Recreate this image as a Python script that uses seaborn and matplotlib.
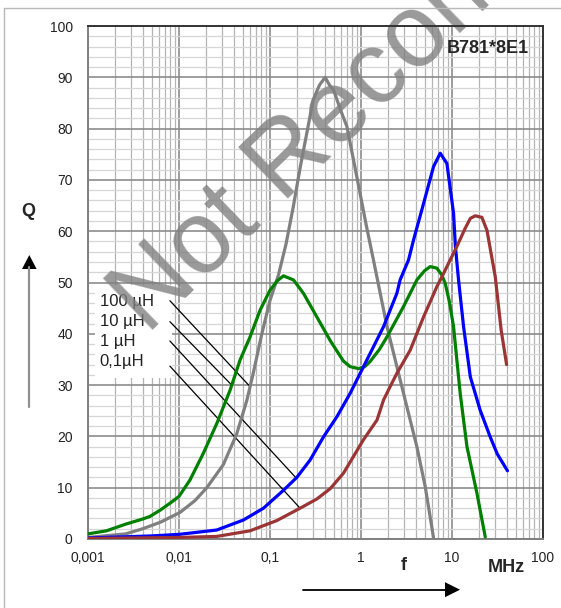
import numpy as np
import pandas as pd
import matplotlib
matplotlib.use("Agg")
import matplotlib.pyplot as plt
import matplotlib.ticker as mticker
from matplotlib.lines import Line2D
from matplotlib.patches import Polygon, Rectangle
import seaborn as sns

# Q vs f (MHz)
f_100u = [0.001, 0.0026, 0.004, 0.0063, 0.0103, 0.015, 0.0202, 0.0307, 0.0431, 0.0556,
          0.0658, 0.0813, 0.1, 0.124, 0.15, 0.18, 0.215, 0.253, 0.298, 0.35, 0.404,
          0.45, 0.5, 0.6, 0.7, 0.9, 1.15, 1.37, 1.93, 2.48, 3.19, 4.11, 5.08, 6.3]
q_100u = [0.3, 1.0, 2.0, 3.3, 5.2, 7.5, 10.0, 14.5, 20.5, 27.0,
          32.5, 40.0, 46.5, 51.5, 57.5, 64.7, 72.5, 79.0, 85.6, 88.5, 90.0,
          88.5, 87.5, 83.5, 80.4, 70.6, 60.9, 54.4, 41.4, 33.6, 25.8, 18.0, 10.2, 0.0]

f_10u = [0.001, 0.0016, 0.0026, 0.004, 0.0048, 0.0063, 0.008, 0.01, 0.0132, 0.0185,
         0.026, 0.0364, 0.0469, 0.0604, 0.0778, 0.1, 0.12, 0.1406, 0.181, 0.233,
         0.327, 0.458, 0.64, 0.76, 0.94, 1.1, 1.26, 1.6, 1.93, 2.93, 4.11, 5.0,
         5.76, 6.82, 7.7, 8.43, 9.3, 10.4, 12.3, 14.6, 18.8, 23.2]
q_10u = [1.0, 1.6, 2.9, 3.9, 4.4, 5.7, 7.0, 8.3, 11.5, 16.7,
         22.5, 29.0, 34.9, 39.4, 44.6, 48.5, 50.3, 51.3, 50.5, 47.9,
         43.3, 38.7, 34.7, 33.6, 33.2, 33.6, 34.6, 37.0, 39.4, 45.3, 50.5, 52.3,
         53.1, 52.8, 51.5, 49.8, 46.5, 41.4, 28.4, 18.0, 8.9, 0.4]

f_1u = [0.001, 0.005, 0.01, 0.026, 0.051, 0.0847, 0.1406, 0.197, 0.276, 0.387, 0.542,
        0.76, 1.16, 1.77, 2.48, 2.69, 3.33, 3.78, 4.87, 6.27, 7.43, 8.79, 10.4, 10.9,
        11.8, 13.4, 15.9, 20.4, 26.3, 31.4, 40.7]
q_1u = [0.2, 0.6, 0.9, 1.75, 3.7, 6.0, 9.5, 12.0, 15.4, 19.9, 23.8,
        28.4, 34.9, 41.4, 47.9, 50.5, 54.4, 58.3, 65.4, 72.6, 75.2, 73.2, 63.5, 57.0,
        50.5, 41.4, 31.6, 25.1, 19.9, 16.6, 13.3]

f_01u = [0.001, 0.01, 0.026, 0.0604, 0.119, 0.214, 0.327, 0.458, 0.64, 0.76, 1.06,
         1.5, 1.77, 2.09, 2.48, 3.47, 4.87, 6.82, 7.75, 9.55, 11.3, 13.9, 15.9, 18.0,
         21.3, 24.2, 29.9, 34.7, 39.8]
q_01u = [0.1, 0.3, 0.5, 1.6, 3.6, 6.0, 7.8, 9.8, 12.8, 15.0, 19.3,
         23.2, 27.1, 29.7, 32.3, 36.8, 43.3, 49.2, 51.1, 54.4, 57.0, 60.5, 62.5, 63.0,
         62.7, 60.2, 51.1, 40.7, 34.0]

series = ["100 µH", "10 µH", "1 µH", "0,1µH"]
colors = ["#808080", "#008000", "#0000ff", "#9b3535"]
# frequency where each label's leader line meets its curve
leader_f = [0.0604, 0.038, 0.194, 0.214]

x_ticks = [0.001, 0.01, 0.1, 1, 10, 100]
x_labels = ["0,001", "0,01", "0,1", "1", "10", "100"]

curves = [(f_100u, q_100u), (f_10u, q_10u), (f_1u, q_1u), (f_01u, q_01u)]
rows = []
for name, (fs, qs) in zip(series, curves):
    for fv, qv in zip(fs, qs):
        rows.append({"f": fv, "Q": qv, "L": name})
df = pd.DataFrame(rows)

sns.set_style("white")
plt.rcParams["font.family"] = ["Liberation Sans", "DejaVu Sans"]

W, H = 561, 608
fig = plt.figure(figsize=(W / 100, H / 100), dpi=100)


def px(x, y):
    return (x / W, 1 - y / H)


ax = fig.add_axes([88 / W, 1 - 539 / H, (543 - 88) / W, (539 - 26) / H])
ax.set_facecolor("none")

sns.lineplot(data=df, x="f", y="Q", hue="L", hue_order=series,
             palette=dict(zip(series, colors)), estimator=None, sort=False,
             linewidth=2.3, legend=False, ax=ax, zorder=3)
for line in ax.get_lines():
    line.set_solid_joinstyle("round")

ax.set_xscale("log")
ax.set_xlim(0.001, 100)
ax.set_ylim(0, 100)
ax.set_xticks(x_ticks)
ax.set_xticklabels(x_labels)
ax.set_yticks(range(0, 101, 10))
ax.xaxis.set_minor_locator(mticker.LogLocator(base=10, subs=range(2, 10), numticks=20))
ax.xaxis.set_minor_formatter(mticker.NullFormatter())
ax.yaxis.set_minor_locator(mticker.MultipleLocator(2))
ax.set_xlabel("")
ax.set_ylabel("")

ax.set_axisbelow(True)
ax.grid(which="major", color="#8c8c8c", linewidth=1.2)
ax.grid(which="minor", axis="x", color="#b4b4b4", linewidth=0.9)
ax.grid(which="minor", axis="y", color="#d6d6d6", linewidth=0.9)

ax.tick_params(which="major", direction="out", length=4, width=1, color="#808080",
               labelsize=10, labelcolor="#222222")
ax.tick_params(axis="x", pad=5)
ax.tick_params(axis="y", pad=7)
ax.tick_params(which="minor", length=0)

for side in ["top", "right"]:
    ax.spines[side].set_color("#333333")
    ax.spines[side].set_linewidth(1.4)
for side in ["left", "bottom"]:
    ax.spines[side].set_color("#808080")
    ax.spines[side].set_linewidth(1.4)
    ax.spines[side].set_visible(True)

# label box
ax.add_patch(Rectangle((0.015, 0.314), 0.17, 0.181, transform=ax.transAxes,
                       facecolor="white", edgecolor="none", zorder=1))
label_y = [0.4626, 0.4236, 0.3846, 0.3456]
start_y = [0.4645, 0.4236, 0.386, 0.337]
for name, ly, sy, lf, (fs, qs) in zip(series, label_y, start_y, leader_f, curves):
    ax.text(0.026, ly, name, transform=ax.transAxes, fontsize=12, va="center",
            ha="left", color="#222222", zorder=2)
    end_q = np.interp(np.log10(lf), np.log10(fs), qs)
    ax.annotate("", xy=(lf, end_q), xycoords="data",
                xytext=(0.18, sy), textcoords="axes fraction",
                arrowprops=dict(arrowstyle="-", color="black", linewidth=0.9,
                                shrinkA=0, shrinkB=0), zorder=2)

ax.text(0.97, 0.957, "B781*8E1", transform=ax.transAxes, fontsize=13,
        fontweight="bold", ha="right", va="center", zorder=4)

# watermark
ax.text(*px(147, 335), "Not Recommended", transform=fig.transFigure,
        fontsize=74, color="#808080", alpha=0.8, rotation=44,
        rotation_mode="anchor", ha="left", va="baseline", clip_on=False,
        zorder=2)

# axis captions and arrows
fig.text(*px(28, 212), "Q", fontsize=13, fontweight="bold", ha="center", va="center")
fig.text(*px(404, 566), "f", fontsize=13, fontweight="bold", ha="center", va="center")
fig.text(*px(506, 568), "MHz", fontsize=13, fontweight="bold", ha="center", va="center")

fig.add_artist(Line2D(*zip(px(29.3, 406.7), px(29.3, 267)), transform=fig.transFigure,
                      color="#909090", linewidth=1.6))
fig.add_artist(Polygon([px(22, 269), px(36.6, 269), px(29.3, 255)], closed=True,
                       transform=fig.transFigure, facecolor="black", edgecolor="none"))
fig.add_artist(Line2D(*zip(px(303, 589.7), px(447, 589.7)), transform=fig.transFigure,
                      color="black", linewidth=1.3))
fig.add_artist(Polygon([px(445, 582.2), px(445, 597.2), px(460, 589.7)], closed=True,
                       transform=fig.transFigure, facecolor="black", edgecolor="none"))

# outer frame
fig.add_artist(Line2D(*zip(px(4, 8.3), px(W, 8.3)), transform=fig.transFigure,
                      color="#b8b8b8", linewidth=1))
fig.add_artist(Line2D(*zip(px(4, 8.3), px(4, H)), transform=fig.transFigure,
                      color="#b8b8b8", linewidth=1))

fig.savefig("out.png", dpi=100)
